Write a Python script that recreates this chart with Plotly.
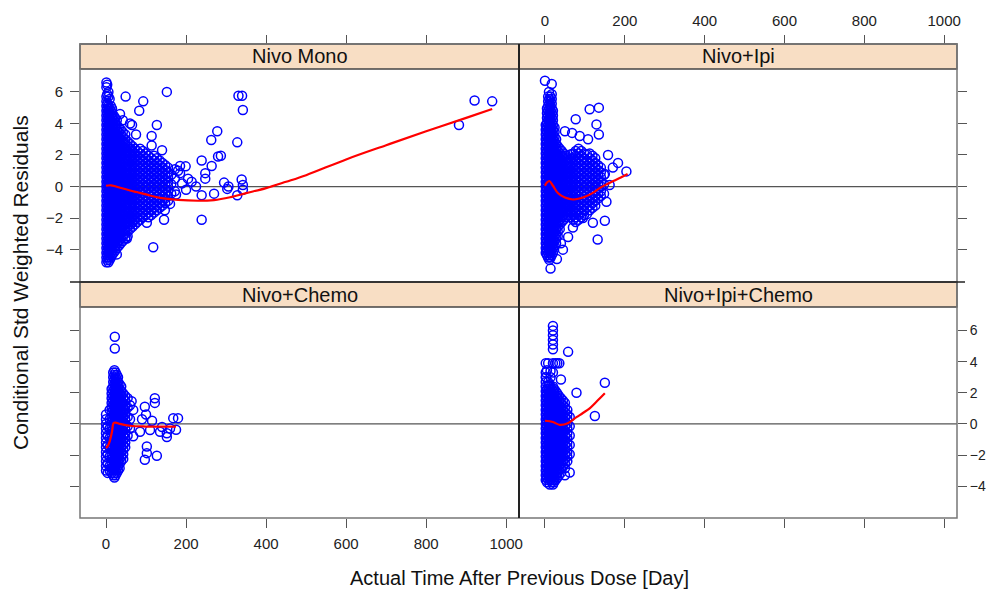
import plotly.graph_objects as go

# ---------------- data ----------------
panels = ["Nivo Mono", "Nivo+Ipi", "Nivo+Chemo", "Nivo+Ipi+Chemo"]
x_ticks = [0, 200, 400, 600, 800, 1000]
y_ticks = [-4, -2, 0, 2, 4, 6]

# Nivo Mono: dense cloud, one list of residuals per time column, plus scattered points
mono_col_day = [1, 3, 6, 9, 12, 15, 19, 23, 27, 32, 37, 42, 48, 54, 60, 66, 72, 78, 85, 92,
                99, 106, 113, 120, 127, 134, 141, 148, 155, 163, 172]
mono_col_res = [
    [6.6, 6.3, 5.7, 5.4, 5.1, 4.8, 4.5, 4.2, 3.9, 3.6, 3.3, 3.0, 2.7, 2.4, 2.1, 1.8, 1.5, 1.2, 0.9, 0.6, 0.3, 0.0, -0.3, -0.6, -0.9, -1.2, -1.5, -1.8, -2.1, -2.4, -2.7, -3.0, -3.3, -3.6, -3.9, -4.2, -4.5, -4.8],
    [6.45, 5.85, 5.25, 4.95, 4.65, 4.35, 4.05, 3.75, 3.45, 3.15, 2.85, 2.55, 2.25, 1.95, 1.65, 1.35, 1.05, 0.75, 0.45, 0.15, -0.15, -0.45, -0.75, -1.05, -1.35, -1.65, -1.95, -2.25, -2.55, -2.85, -3.15, -3.45, -3.75, -4.05, -4.35, -4.65],
    [6.0, 5.7, 5.1, 4.8, 4.5, 4.2, 3.9, 3.6, 3.3, 3.0, 2.7, 2.4, 2.1, 1.8, 1.5, 1.2, 0.9, 0.6, 0.3, 0.0, -0.3, -0.6, -0.9, -1.2, -1.5, -1.8, -2.1, -2.4, -2.7, -3.0, -3.3, -3.6, -3.9, -4.2, -4.5, -4.8],
    [5.55, 4.95, 4.65, 4.35, 4.05, 3.75, 3.45, 3.15, 2.85, 2.55, 2.25, 1.95, 1.65, 1.35, 1.05, 0.75, 0.45, 0.15, -0.15, -0.45, -0.75, -1.05, -1.35, -1.65, -1.95, -2.25, -2.55, -2.85, -3.15, -3.45, -3.75, -4.05, -4.35, -4.65],
    [5.1, 4.8, 4.5, 4.2, 3.9, 3.6, 3.3, 3.0, 2.7, 2.4, 2.1, 1.8, 1.5, 1.2, 0.9, 0.6, 0.3, 0.0, -0.3, -0.6, -0.9, -1.2, -1.5, -1.8, -2.1, -2.4, -2.7, -3.0, -3.3, -3.6, -3.9, -4.2, -4.5],
    [4.95, 4.65, 4.35, 4.05, 3.75, 3.45, 3.15, 2.85, 2.55, 2.25, 1.95, 1.65, 1.35, 1.05, 0.75, 0.45, 0.15, -0.15, -0.45, -0.75, -1.05, -1.35, -1.65, -1.95, -2.25, -2.55, -2.85, -3.15, -3.45, -3.75, -4.05, -4.35],
    [4.5, 4.2, 3.9, 3.6, 3.3, 3.0, 2.7, 2.4, 2.1, 1.8, 1.5, 1.2, 0.9, 0.6, 0.3, 0.0, -0.3, -0.6, -0.9, -1.2, -1.5, -1.8, -2.1, -2.4, -2.7, -3.0, -3.3, -3.6, -3.9, -4.2],
    [4.35, 4.05, 3.75, 3.45, 3.15, 2.85, 2.55, 2.25, 1.95, 1.65, 1.35, 1.05, 0.75, 0.45, 0.15, -0.15, -0.45, -0.75, -1.05, -1.35, -1.65, -1.95, -2.25, -2.55, -2.85, -3.15, -3.45, -3.75, -4.05],
    [4.2, 3.9, 3.6, 3.3, 3.0, 2.7, 2.4, 2.1, 1.8, 1.5, 1.2, 0.9, 0.6, 0.3, 0.0, -0.3, -0.6, -0.9, -1.2, -1.5, -1.8, -2.1, -2.4, -2.7, -3.0, -3.3, -3.6, -3.9],
    [3.75, 3.45, 3.15, 2.85, 2.55, 2.25, 1.95, 1.65, 1.35, 1.05, 0.75, 0.45, 0.15, -0.15, -0.45, -0.75, -1.05, -1.35, -1.65, -1.95, -2.25, -2.55, -2.85, -3.15, -3.45, -3.75],
    [3.6, 3.3, 3.0, 2.7, 2.4, 2.1, 1.8, 1.5, 1.2, 0.9, 0.6, 0.3, 0.0, -0.3, -0.6, -0.9, -1.2, -1.5, -1.8, -2.1, -2.4, -2.7, -3.0, -3.3, -3.6],
    [3.45, 3.15, 2.85, 2.55, 2.25, 1.95, 1.65, 1.35, 1.05, 0.75, 0.45, 0.15, -0.15, -0.45, -0.75, -1.05, -1.35, -1.65, -1.95, -2.25, -2.55, -2.85, -3.15, -3.45],
    [3.3, 3.0, 2.7, 2.4, 2.1, 1.8, 1.5, 1.2, 0.9, 0.6, 0.3, 0.0, -0.3, -0.6, -0.9, -1.2, -1.5, -1.8, -2.1, -2.4, -2.7, -3.0, -3.3],
    [2.85, 2.55, 2.25, 1.95, 1.65, 1.35, 1.05, 0.75, 0.45, 0.15, -0.15, -0.45, -0.75, -1.05, -1.35, -1.65, -1.95, -2.25, -2.55, -2.85, -3.15],
    [2.7, 2.4, 2.1, 1.8, 1.5, 1.2, 0.9, 0.6, 0.3, 0.0, -0.3, -0.6, -0.9, -1.2, -1.5, -1.8, -2.1, -2.4, -2.7],
    [2.55, 2.25, 1.95, 1.65, 1.35, 1.05, 0.75, 0.45, 0.15, -0.15, -0.45, -0.75, -1.05, -1.35, -1.65, -1.95, -2.25, -2.55],
    [2.4, 2.1, 1.8, 1.5, 1.2, 0.9, 0.6, 0.3, 0.0, -0.3, -0.6, -0.9, -1.2, -1.5, -1.8, -2.1, -2.4],
    [2.25, 1.95, 1.65, 1.35, 1.05, 0.75, 0.45, 0.15, -0.15, -0.45, -0.75, -1.05, -1.35, -1.65, -1.95, -2.25],
    [2.4, 2.1, 1.8, 1.5, 1.2, 0.9, 0.6, 0.3, 0.0, -0.3, -0.6, -0.9, -1.2, -1.5, -1.8, -2.1],
    [2.25, 1.95, 1.65, 1.35, 1.05, 0.75, 0.45, 0.15, -0.15, -0.45, -0.75, -1.05, -1.35, -1.65, -1.95],
    [2.1, 1.8, 1.5, 1.2, 0.9, 0.6, 0.3, 0.0, -0.3, -0.6, -0.9, -1.2, -1.5, -1.8],
    [1.95, 1.65, 1.35, 1.05, 0.75, 0.45, 0.15, -0.15, -0.45, -0.75, -1.05, -1.35, -1.65, -1.95],
    [1.8, 1.5, 1.2, 0.9, 0.6, 0.3, 0.0, -0.3, -0.6, -0.9, -1.2, -1.5, -1.8],
    [1.95, 1.65, 1.35, 1.05, 0.75, 0.45, 0.15, -0.15, -0.45, -0.75, -1.05, -1.35, -1.65],
    [1.8, 1.5, 1.2, 0.9, 0.6, 0.3, 0.0, -0.3, -0.6, -0.9, -1.2, -1.5],
    [1.65, 1.35, 1.05, 0.75, 0.45, 0.15, -0.15, -0.45, -0.75, -1.05, -1.35],
    [1.5, 1.2, 0.9, 0.6, 0.3, 0.0, -0.3, -0.6, -0.9, -1.2],
    [1.35, 1.05, 0.75, 0.45, 0.15, -0.15, -0.45, -0.75, -1.05],
    [1.2, 0.9, 0.6, 0.3, 0.0, -0.3, -0.6, -0.9],
    [0.75, 0.15, -0.45],
    [1.1, 0.5, -0.3],
]
mono_out_day = [152, 93, 83, 49, 127, 114, 114, 140, 331, 340, 342, 328, 278, 263, 287, 280, 239, 264, 248, 248,
                239, 239, 270, 295, 306, 303, 328, 339, 342, 342, 882, 921, 965, 118, 185, 185, 214, 200, 147, 145,
                102, 71, 27, 52, 190, 175, 205, 180, 225, 160, 65, 75, 60, 42, 199, 35]
mono_out_res = [6.0, 5.4, 4.8, 5.7, 3.9, 3.2, 2.6, 2.3, 5.75, 5.75, 4.85, 2.8, 3.5, 2.95, 1.95, 1.9, 1.65, 1.3, 0.85, 0.5,
                -0.55, -2.1, -0.45, 0.25, 0.0, -0.15, -0.55, 0.45, 0.1, -0.2, 3.9, 5.45, 5.4, -3.85, 1.3, 0.85, 0.3, -0.2, -1.5, -2.1,
                -2.3, -2.1, -4.3, -3.3, 0.2, -0.5, 0.5, 1.0, 0.0, -1.1, 3.9, 3.3, 4.0, 4.2, 1.28, 4.6]
mono_fit_day = [0, 12, 25, 60, 100, 135, 180, 230, 270, 310, 350, 400, 450, 500, 600, 700, 800, 900, 965]
mono_fit_res = [0.05, 0.08, 0.0, -0.25, -0.5, -0.72, -0.85, -0.9, -0.86, -0.68, -0.42, -0.1, 0.3, 0.72, 1.72, 2.62, 3.5, 4.35, 4.92]

# Nivo+Ipi
ipi_col_day = [2, 5, 8, 11, 14, 17, 20, 24, 28, 32, 37, 42, 47, 53, 59, 65, 71, 77, 84, 91,
               98, 105, 112, 119, 126, 133, 140, 148]
ipi_col_res = [
    [3.9, 3.6, 3.3, 3.0, 2.7, 2.4, 2.1, 1.8, 1.5, 1.2, 0.9, 0.6, 0.3, 0.0, -0.3, -0.6, -0.9, -1.2, -1.5, -1.8, -2.1, -2.4, -2.7, -3.0, -3.3, -3.6, -3.9, -4.2],
    [4.95, 4.65, 4.35, 4.05, 3.75, 3.45, 3.15, 2.85, 2.55, 2.25, 1.95, 1.65, 1.35, 1.05, 0.75, 0.45, 0.15, -0.15, -0.45, -0.75, -1.05, -1.35, -1.65, -1.95, -2.25, -2.55, -2.85, -3.15, -3.45, -3.75, -4.05, -4.35],
    [5.4, 5.1, 4.8, 4.5, 4.2, 3.9, 3.6, 3.3, 3.0, 2.7, 2.4, 2.1, 1.8, 1.5, 1.2, 0.9, 0.6, 0.3, 0.0, -0.3, -0.6, -0.9, -1.2, -1.5, -1.8, -2.1, -2.4, -2.7, -3.0, -3.3, -3.6, -3.9, -4.2, -4.5],
    [5.55, 5.25, 4.95, 4.65, 4.35, 4.05, 3.75, 3.45, 3.15, 2.85, 2.55, 2.25, 1.95, 1.65, 1.35, 1.05, 0.75, 0.45, 0.15, -0.15, -0.45, -0.75, -1.05, -1.35, -1.65, -1.95, -2.25, -2.55, -2.85, -3.15, -3.45, -3.75, -4.05, -4.35, -4.65],
    [5.7, 5.4, 5.1, 4.8, 4.5, 4.2, 3.9, 3.6, 3.3, 3.0, 2.7, 2.4, 2.1, 1.8, 1.5, 1.2, 0.9, 0.6, 0.3, 0.0, -0.3, -0.6, -0.9, -1.2, -1.5, -1.8, -2.1, -2.4, -2.7, -3.0, -3.3, -3.6, -3.9, -4.2, -4.5],
    [5.85, 5.55, 5.25, 4.95, 4.65, 4.35, 4.05, 3.75, 3.45, 3.15, 2.85, 2.55, 2.25, 1.95, 1.65, 1.35, 1.05, 0.75, 0.45, 0.15, -0.15, -0.45, -0.75, -1.05, -1.35, -1.65, -1.95, -2.25, -2.55, -2.85, -3.15, -3.45, -3.75, -4.05, -4.35],
    [4.8, 4.5, 4.2, 3.9, 3.6, 3.3, 3.0, 2.7, 2.4, 2.1, 1.8, 1.5, 1.2, 0.9, 0.6, 0.3, 0.0, -0.3, -0.6, -0.9, -1.2, -1.5, -1.8, -2.1, -2.4, -2.7, -3.0, -3.3, -3.6, -3.9, -4.2],
    [3.75, 3.45, 3.15, 2.85, 2.55, 2.25, 1.95, 1.65, 1.35, 1.05, 0.75, 0.45, 0.15, -0.15, -0.45, -0.75, -1.05, -1.35, -1.65, -1.95, -2.25, -2.55, -2.85, -3.15, -3.45, -3.75],
    [3.0, 2.7, 2.4, 2.1, 1.8, 1.5, 1.2, 0.9, 0.6, 0.3, 0.0, -0.3, -0.6, -0.9, -1.2, -1.5, -1.8, -2.1, -2.4, -2.7, -3.0, -3.3, -3.6],
    [2.55, 2.25, 1.95, 1.65, 1.35, 1.05, 0.75, 0.45, 0.15, -0.15, -0.45, -0.75, -1.05, -1.35, -1.65, -1.95, -2.25, -2.55, -2.85, -3.15],
    [2.4, 2.1, 1.8, 1.5, 1.2, 0.9, 0.6, 0.3, 0.0, -0.3, -0.6, -0.9, -1.2, -1.5, -1.8, -2.1, -2.4, -2.7],
    [2.25, 1.95, 1.65, 1.35, 1.05, 0.75, 0.45, 0.15, -0.15, -0.45, -0.75, -1.05, -1.35, -1.65, -1.95, -2.25],
    [2.1, 1.8, 1.5, 1.2, 0.9, 0.6, 0.3, 0.0, -0.3, -0.6, -0.9, -1.2, -1.5, -1.8, -2.1],
    [1.95, 1.65, 1.35, 1.05, 0.75, 0.45, 0.15, -0.15, -0.45, -0.75, -1.05, -1.35, -1.65, -1.95],
    [1.8, 1.5, 1.2, 0.9, 0.6, 0.3, 0.0, -0.3, -0.6, -0.9, -1.2, -1.5, -1.8],
    [2.05, 1.75, 1.35, 1.05, 0.75, 0.45, 0.15, -0.15, -0.45, -0.75, -1.05, -1.35, -1.65, -1.95],
    [2.1, 1.8, 1.5, 1.2, 0.9, 0.6, 0.3, 0.0, -0.3, -0.6, -0.9, -1.2, -1.5, -1.8, -2.1],
    [2.25, 1.95, 1.65, 1.35, 1.05, 0.75, 0.45, 0.15, -0.15, -0.45, -0.75, -1.05, -1.35, -1.65, -1.95, -2.25],
    [2.4, 2.1, 1.8, 1.5, 1.2, 0.9, 0.6, 0.3, 0.0, -0.3, -0.6, -0.9, -1.2, -1.5, -1.8, -2.1],
    [2.25, 1.95, 1.65, 1.35, 1.05, 0.75, 0.45, 0.15, -0.15, -0.45, -0.75, -1.05, -1.35, -1.65, -1.95],
    [2.1, 1.8, 1.5, 1.2, 0.9, 0.6, 0.3, 0.0, -0.3, -0.6, -0.9, -1.2, -1.5, -1.8],
    [2.05, 1.65, 1.35, 1.05, 0.75, 0.45, 0.15, -0.15, -0.45, -0.75, -1.05, -1.35, -1.75],
    [2.1, 1.8, 1.5, 1.2, 0.9, 0.6, 0.3, 0.0, -0.3, -0.6, -0.9, -1.2, -1.5],
    [1.95, 1.65, 1.35, 1.05, 0.75, 0.45, 0.15, -0.15, -0.45, -0.75, -1.05, -1.35],
    [1.8, 1.5, 1.2, 0.9, 0.6, 0.3, 0.0, -0.3, -0.6, -0.9, -1.2],
    [1.35, 1.05, 0.75, 0.45, 0.15, -0.15, -0.45, -0.75],
    [1.2, 0.9, 0.6, 0.3, 0.0, -0.3, -0.6],
    [0.75, 0.15, -0.45],
]
ipi_out_day = [0, 17, 112, 135, 77, 129, 135, 50, 68, 87, 108, 158, 183, 204, 170, 150, 162, 154, 150, 132,
               120, 95, 70, 58, 14, 30, 45, 40, 10, 8]
ipi_out_res = [6.7, 6.5, 4.9, 5.0, 4.26, 3.94, 3.3, 3.5, 3.4, 3.2, 3.0, 2.0, 1.5, 0.96, 1.2, 0.8, 0.1, -0.96, -2.17, -3.36,
               -2.3, -2.0, -2.6, -3.2, -5.2, -4.6, -4.0, -3.6, 6.0, 5.7]
ipi_fit_day = [0, 5, 11, 20, 33, 50, 71, 100, 120, 137, 155, 171, 190, 207]
ipi_fit_res = [0.05, 0.25, 0.35, 0.05, -0.43, -0.7, -0.82, -0.65, -0.4, -0.1, 0.15, 0.35, 0.58, 0.8]

# Nivo+Chemo
chemo_col_day = [0, 4, 9, 14, 18, 21, 24, 27, 30, 34, 38, 43, 48, 54, 60]
chemo_col_res = [
    [0.6, 0.3, 0.0, -0.3, -0.6, -0.9, -1.2, -1.5, -1.8, -2.1, -2.4, -2.7, -3.0],
    [-0.15, -0.75, -1.35, -1.95, -2.55, -3.15],
    [0.9, 0.3, -0.3, -0.9, -1.5, -2.1, -2.7, -3.0],
    [2.25, 1.95, 1.65, 1.35, 1.05, 0.75, 0.45, 0.15, -0.15, -0.45, -0.75, -1.05, -1.35, -1.65, -1.95, -2.25, -2.55, -2.85, -3.15],
    [3.3, 3.0, 2.7, 2.4, 2.1, 1.8, 1.5, 1.2, 0.9, 0.6, 0.3, 0.0, -0.3, -0.6, -0.9, -1.2, -1.5, -1.8, -2.1, -2.4, -2.7, -3.0, -3.3],
    [3.45, 3.15, 2.85, 2.55, 2.25, 1.95, 1.65, 1.35, 1.05, 0.75, 0.45, 0.15, -0.15, -0.45, -0.75, -1.05, -1.35, -1.65, -1.95, -2.25, -2.55, -2.85, -3.15, -3.45],
    [3.3, 3.0, 2.7, 2.4, 2.1, 1.8, 1.5, 1.2, 0.9, 0.6, 0.3, 0.0, -0.3, -0.6, -0.9, -1.2, -1.5, -1.8, -2.1, -2.4, -2.7, -3.0, -3.3],
    [3.15, 2.85, 2.55, 2.25, 1.95, 1.65, 1.35, 1.05, 0.75, 0.45, 0.15, -0.15, -0.45, -0.75, -1.05, -1.35, -1.65, -1.95, -2.25, -2.55, -2.85, -3.15],
    [3.0, 2.7, 2.4, 2.1, 1.8, 1.5, 1.2, 0.9, 0.6, 0.3, 0.0, -0.3, -0.6, -0.9, -1.2, -1.5, -1.8, -2.1, -2.4, -2.7, -3.0],
    [2.55, 2.25, 1.95, 1.65, 1.35, 1.05, 0.75, 0.45, 0.15, -0.15, -0.45, -0.75, -1.05, -1.35, -1.65, -1.95, -2.25, -2.55, -2.85],
    [2.4, 2.1, 1.8, 1.5, 1.2, 0.9, 0.6, 0.3, 0.0, -0.3, -0.6, -0.9, -1.2, -1.5, -1.8, -2.1, -2.4],
    [1.95, 1.65, 1.35, 1.05, 0.75, 0.45, 0.15, -0.15, -0.45, -0.75, -1.05, -1.35, -1.65, -1.95, -2.25],
    [1.8, 1.5, 1.2, 0.9, 0.6, 0.3, 0.0, -0.3, -0.6, -0.9, -1.2, -1.5],
    [1.65, 1.05, 0.45, -0.15, -0.75],
    [1.2, 0.3, -0.3],
]
chemo_out_day = [22, 22, 97, 122, 122, 100, 68, 64, 85, 68, 102, 102, 97, 127, 152, 152, 168, 180, 175, 135,
                 115, 140, 160, 110, 90]
chemo_out_res = [5.6, 4.85, 1.1, 1.65, 1.35, 0.6, 0.9, 1.45, -0.5, -0.8, -1.45, -1.88, -2.3, -2.05, -0.6, -0.85, 0.37, 0.37, -0.38, -0.5,
                 0.2, -0.2, -0.3, -0.4, 0.3]
chemo_fit_day = [0, 5, 10, 15, 19, 24, 35, 60, 100, 140, 175]
chemo_fit_res = [-1.55, -1.4, -1.05, -0.5, 0.05, 0.08, 0.0, -0.12, -0.17, -0.18, -0.18]

# Nivo+Ipi+Chemo
ipichemo_col_day = [2, 5, 8, 11, 14, 17, 20, 23, 27, 31, 35, 40, 45, 50, 56, 62]
ipichemo_col_res = [
    [3.9, 3.3, 3.0, 2.7, 2.4, 2.1, 1.8, 1.5, 1.2, 0.9, 0.6, 0.3, 0.0, -0.3, -0.6, -0.9, -1.2, -1.5, -1.8, -2.1, -2.4, -2.7, -3.0, -3.3, -3.6],
    [3.45, 2.25, 1.95, 1.65, 1.35, 1.05, 0.75, 0.45, 0.15, -0.15, -0.45, -0.75, -1.05, -1.35, -1.65, -1.95, -2.25, -2.55, -2.85, -3.15, -3.45, -3.75],
    [2.7, 2.4, 2.1, 1.8, 1.5, 1.2, 0.9, 0.6, 0.3, 0.0, -0.3, -0.6, -0.9, -1.2, -1.5, -1.8, -2.1, -2.4, -2.7, -3.0, -3.3, -3.6],
    [2.55, 2.25, 1.95, 1.65, 1.35, 1.05, 0.75, 0.45, 0.15, -0.15, -0.45, -0.75, -1.05, -1.35, -1.65, -1.95, -2.25, -2.55, -2.85, -3.15, -3.45],
    [3.0, 2.4, 2.1, 1.8, 1.5, 1.2, 0.9, 0.6, 0.3, 0.0, -0.3, -0.6, -0.9, -1.2, -1.5, -1.8, -2.1, -2.4, -2.7, -3.0, -3.3, -3.6],
    [2.25, 1.95, 1.65, 1.35, 1.05, 0.75, 0.45, 0.15, -0.15, -0.45, -0.75, -1.05, -1.35, -1.65, -1.95, -2.25, -2.55, -2.85, -3.15, -3.45, -3.75],
    [6.3, 6.0, 5.7, 5.4, 5.1, 4.8, 3.9, 3.3, 2.4, 2.1, 1.8, 1.5, 1.2, 0.9, 0.6, 0.3, 0.0, -0.3, -0.6, -0.9, -1.2, -1.5, -1.8, -2.1, -2.4, -2.7, -3.0, -3.3, -3.6, -3.9],
    [2.25, 1.95, 1.65, 1.35, 1.05, 0.75, 0.45, 0.15, -0.15, -0.45, -0.75, -1.05, -1.35, -1.65, -1.95, -2.25, -2.55, -2.85, -3.15, -3.45, -3.75],
    [2.1, 1.8, 1.5, 1.2, 0.9, 0.6, 0.3, 0.0, -0.3, -0.6, -0.9, -1.2, -1.5, -1.8, -2.1, -2.4, -2.7, -3.0, -3.3, -3.6],
    [3.9, 1.95, 1.65, 1.35, 1.05, 0.75, 0.45, 0.15, -0.15, -0.45, -0.75, -1.05, -1.35, -1.65, -1.95, -2.25, -2.55, -2.85, -3.15, -3.45],
    [1.8, 1.5, 1.2, 0.9, 0.6, 0.3, 0.0, -0.3, -0.6, -0.9, -1.2, -1.5, -1.8, -2.1, -2.4, -2.7, -3.0, -3.3],
    [2.85, 1.65, 1.35, 1.05, 0.75, 0.45, 0.15, -0.15, -0.45, -0.75, -1.05, -1.35, -1.65, -1.95, -2.25, -2.55, -2.85, -3.15],
    [1.5, 1.2, 0.9, 0.6, 0.3, 0.0, -0.3, -0.6, -0.9, -1.2, -1.5, -1.8, -2.1, -2.4, -2.7],
    [1.35, 1.05, 0.75, 0.45, 0.15, -0.15, -0.45, -0.75, -1.05, -1.35, -1.65, -1.95, -2.25, -2.55, -2.85],
    [0.9, 0.6, 0.3, 0.0, -0.3, -0.6, -0.9, -1.2, -1.5, -1.8, -2.1, -2.4],
    [0.45, -0.15, -0.75, -1.35, -1.95],
]
ipichemo_out_day = [58, 79, 150, 125, 62, 36, 3, 50, 12, 8, 26, 14]
ipichemo_out_res = [4.63, 2.0, 2.65, 0.51, -3.12, 3.9, 3.0, -3.3, -3.9, 3.9, 3.9, 3.4]
ipichemo_fit_day = [0, 20, 37, 57, 79, 95, 112, 130, 150]
ipichemo_fit_res = [0.2, 0.12, -0.06, 0.04, 0.43, 0.7, 1.0, 1.45, 1.97]

# ---------------- layout geometry ----------------
W, H = 986, 591
def fx(px): return px / W
def fy(py): return 1 - py / H

col_dom = [[fx(80), fx(519)], [fx(519), fx(957)]]
row_dom = [[fy(282), fy(69)], [fy(518), fy(308)]]
strip_y = [(44, 69), (282, 307)]
X_RANGE = [-65, 1032]
Y_RANGE = [-6.05, 7.45]

FONT = "Liberation Sans, Arial, Helvetica, sans-serif"

panel_data = [
    (mono_col_day, mono_col_res, mono_out_day, mono_out_res, mono_fit_day, mono_fit_res),
    (ipi_col_day, ipi_col_res, ipi_out_day, ipi_out_res, ipi_fit_day, ipi_fit_res),
    (chemo_col_day, chemo_col_res, chemo_out_day, chemo_out_res, chemo_fit_day, chemo_fit_res),
    (ipichemo_col_day, ipichemo_col_res, ipichemo_out_day, ipichemo_out_res, ipichemo_fit_day, ipichemo_fit_res),
]

fig = go.Figure()
shapes = []
annotations = []

for i, (cd, cr, od, orr, fd, fr) in enumerate(panel_data):
    row, col = divmod(i, 2)
    sx = "" if i == 0 else str(i + 1)
    xs, ys = [], []
    for d, vals in zip(cd, cr):
        xs += [d] * len(vals)
        ys += vals
    xs += od
    ys += orr
    fig.add_trace(go.Scatter(
        x=xs, y=ys, mode="markers", xaxis="x" + sx, yaxis="y" + sx,
        marker=dict(symbol="circle-open", size=9, color="#0000FF", line=dict(width=1.5)),
        showlegend=False, hoverinfo="skip"))
    fig.add_trace(go.Scatter(
        x=fd, y=fr, mode="lines", xaxis="x" + sx, yaxis="y" + sx,
        line=dict(color="#FF0000", width=2.2, shape="spline"),
        showlegend=False, hoverinfo="skip"))

    top = row == 0
    left = col == 0
    xa = dict(domain=col_dom[col], range=X_RANGE, tickvals=x_ticks, ticks="outside", ticklen=9,
              tickwidth=1.3, tickcolor="#555555", showgrid=False, zeroline=False, showline=False,
              ticklabelstandoff=3, automargin=False,
              tickfont=dict(family=FONT, size=15, color="#222222"))
    if top:
        xa.update(side="top", anchor="free", position=fy(44), showticklabels=(col == 1))
    else:
        xa.update(side="bottom", anchor="y" + sx, showticklabels=(col == 0))
    ya = dict(domain=row_dom[row], range=Y_RANGE, tickvals=y_ticks, ticks="outside", ticklen=9,
              tickwidth=1.3, tickcolor="#555555", showgrid=False, zeroline=False, showline=False,
              anchor="x" + sx, side="left" if left else "right",
              showticklabels=(i == 0 or i == 3), automargin=False,
              ticklabelstandoff=(4 if left else 0),
              tickfont=dict(family=FONT, size=(15 if left else 14), color="#222222"))
    fig.update_layout(**{"xaxis" + sx: xa, "yaxis" + sx: ya})

    # zero reference line
    shapes.append(dict(type="line", xref="x" + sx + " domain", yref="y" + sx,
                       x0=0, x1=1, y0=0, y1=0, line=dict(color="#555555", width=1.3), layer="below"))
    # strip
    sy0, sy1 = strip_y[row]
    shapes.append(dict(type="rect", xref="paper", yref="paper",
                       x0=col_dom[col][0], x1=col_dom[col][1], y0=fy(sy1), y1=fy(sy0),
                       fillcolor="#F8DEC4", line=dict(color="#444444", width=1.3), layer="above"))
    annotations.append(dict(text=panels[i], xref="paper", yref="paper",
                            x=(col_dom[col][0] + col_dom[col][1]) / 2, y=fy((sy0 + sy1) / 2),
                            showarrow=False, font=dict(family=FONT, size=20, color="#111111"),
                            xanchor="center", yanchor="middle"))

# panel borders
shapes.append(dict(type="rect", xref="paper", yref="paper", x0=fx(80), x1=fx(957), y0=fy(518), y1=fy(44),
                   line=dict(color="#777777", width=1.5), layer="above"))
shapes.append(dict(type="line", xref="paper", yref="paper", x0=fx(519), x1=fx(519), y0=fy(518), y1=fy(44),
                   line=dict(color="#222222", width=2), layer="above"))
shapes.append(dict(type="line", xref="paper", yref="paper", x0=fx(70), x1=fx(965), y0=fy(282), y1=fy(282),
                   line=dict(color="#222222", width=1.6), layer="above"))

annotations.append(dict(text="Actual Time After Previous Dose [Day]", xref="paper", yref="paper",
                        x=fx(519), y=fy(578), showarrow=False,
                        font=dict(family=FONT, size=20, color="#111111"), xanchor="center", yanchor="middle"))
annotations.append(dict(text="Conditional Std Weighted Residuals", xref="paper", yref="paper",
                        x=fx(20), y=fy(283), showarrow=False, textangle=-90,
                        font=dict(family=FONT, size=21, color="#111111"), xanchor="center", yanchor="middle"))

fig.update_layout(width=W, height=H, margin=dict(l=0, r=0, t=0, b=0, autoexpand=False),
                  paper_bgcolor="white", plot_bgcolor="white",
                  shapes=shapes, annotations=annotations, showlegend=False)

fig.write_html("out.html")
